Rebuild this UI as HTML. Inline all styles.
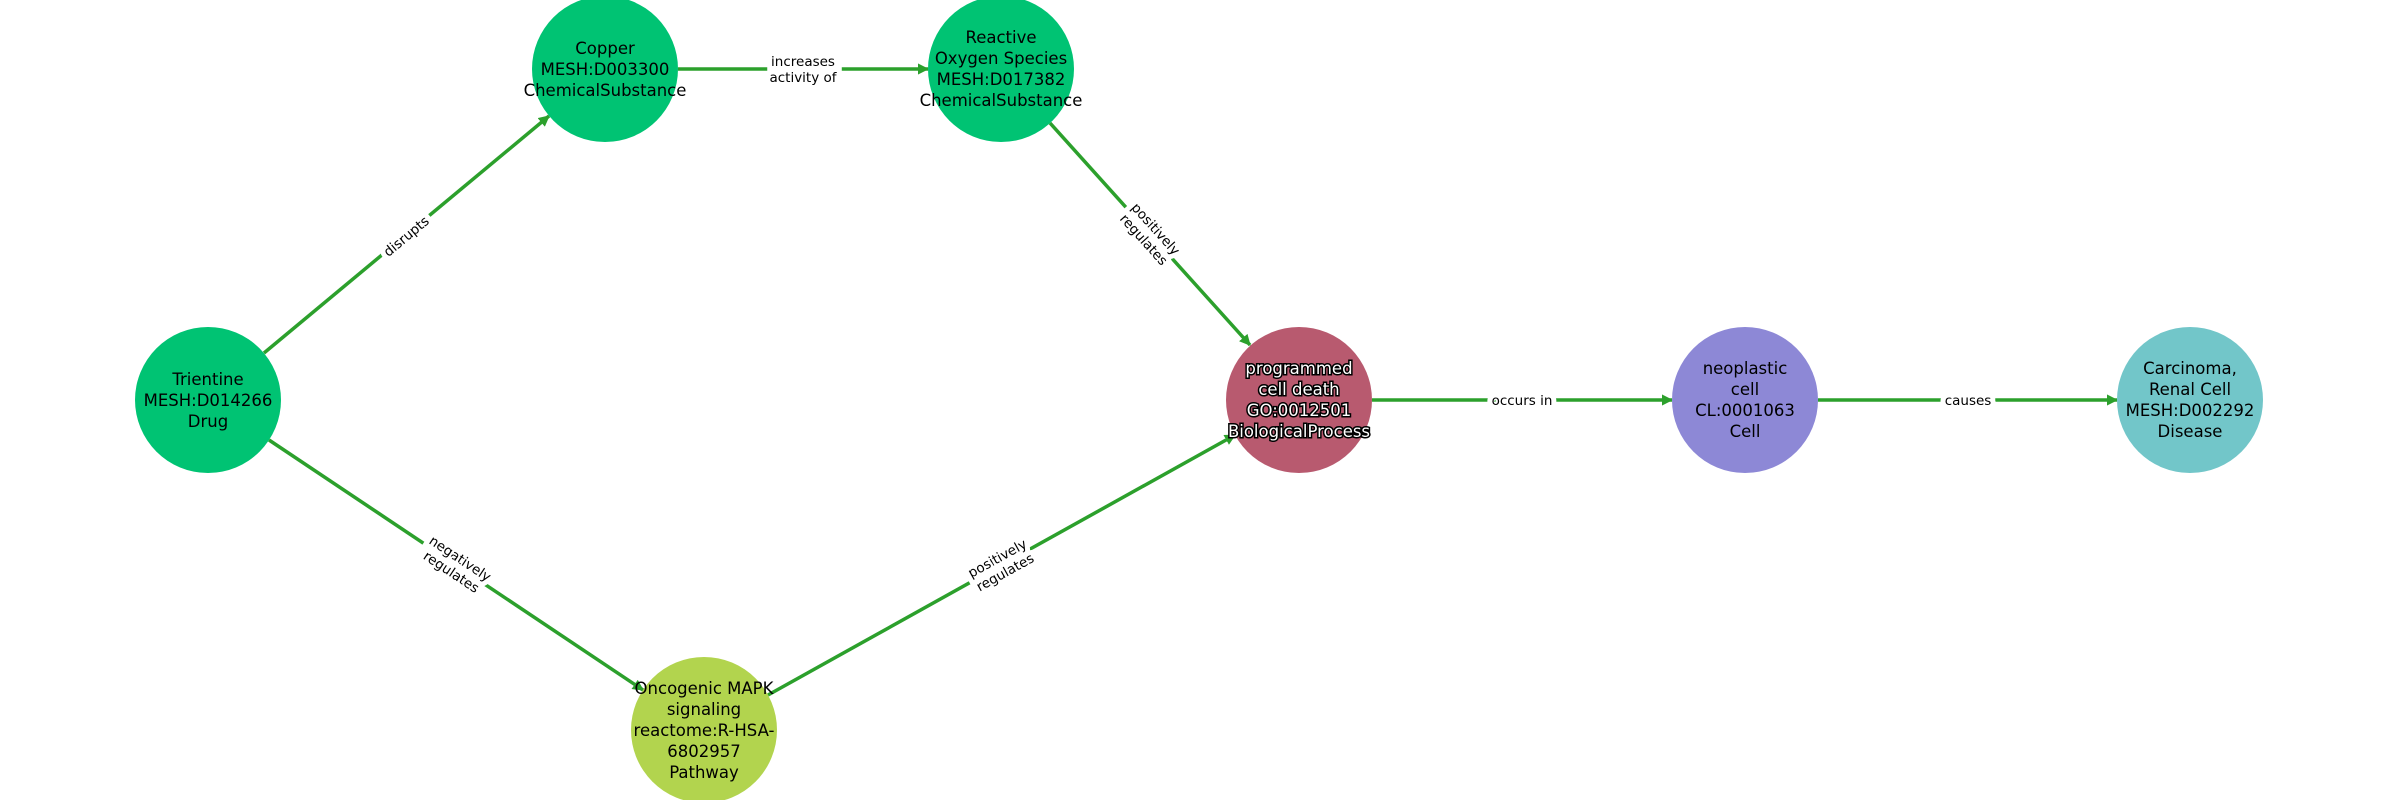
<!DOCTYPE html>
<html><head><meta charset="utf-8"><style>
html,body{margin:0;padding:0;background:#fff;}
svg{display:block;}
text{font-family:"DejaVu Sans","Liberation Sans",sans-serif;}
.n{font-size:16.5px;fill:#000;text-anchor:middle;}
.e{font-size:13.5px;fill:#000;text-anchor:middle;stroke:#fff;stroke-width:10px;paint-order:stroke;stroke-linejoin:miter;}
.w{font-size:16.5px;fill:#fff;stroke:#000;stroke-width:3px;paint-order:stroke;text-anchor:middle;}
line{stroke:#2ca02c;stroke-width:3.5;}
</style></head><body>
<svg width="2400" height="800" viewBox="0 0 2400 800" xmlns="http://www.w3.org/2000/svg">
<defs><marker id="a" viewBox="0 0 10 10" refX="9" refY="5" markerWidth="3.2" markerHeight="3.2" orient="auto" markerUnits="strokeWidth"><path d="M0,0 L10,5 L0,10 Z" fill="#2ca02c"/></marker></defs>
<line x1="264" y1="353" x2="549" y2="116" marker-end="url(#a)"/>
<line x1="269" y1="440" x2="643" y2="690" marker-end="url(#a)"/>
<line x1="1050" y1="123" x2="1250" y2="345" marker-end="url(#a)"/>
<line x1="768" y1="695" x2="1235" y2="435" marker-end="url(#a)"/>
<line x1="678" y1="69" x2="928" y2="69" marker-end="url(#a)"/>
<line x1="1372" y1="400" x2="1672" y2="400" marker-end="url(#a)"/>
<line x1="1818" y1="400" x2="2117" y2="400" marker-end="url(#a)"/>

<text class="e" transform="translate(406,236) rotate(-39.8)" y="5">disrupts</text>
<text class="e" transform="translate(456,565) rotate(33.6)"><tspan x="0" y="-3">negatively</tspan><tspan x="0" y="13">regulates</tspan></text>
<text class="e" transform="translate(1150,234) rotate(48)"><tspan x="0" y="-3">positively</tspan><tspan x="0" y="13">regulates</tspan></text>
<text class="e" transform="translate(1001,565) rotate(-29)"><tspan x="0" y="-3">positively</tspan><tspan x="0" y="13">regulates</tspan></text>
<text class="e" x="803" y="66">increases</text>
<text class="e" x="803" y="82">activity of</text>
<text class="e" x="1522" y="405">occurs in</text>
<text class="e" x="1968" y="405">causes</text>

<circle cx="208" cy="400" r="73" fill="#00c373"/>
<circle cx="605" cy="69" r="73" fill="#00c373"/>
<circle cx="1001" cy="69" r="73" fill="#00c373"/>
<circle cx="1299" cy="400" r="73" fill="#b85a6f"/>
<circle cx="1745" cy="400" r="73" fill="#8d88d6"/>
<circle cx="2190" cy="400" r="73" fill="#72c6c9"/>
<circle cx="704" cy="730" r="73" fill="#b2d44e"/>

<text class="n" x="208" y="385">Trientine</text>
<text class="n" x="208" y="406">MESH:D014266</text>
<text class="n" x="208" y="427">Drug</text>

<text class="n" x="605" y="54">Copper</text>
<text class="n" x="605" y="75">MESH:D003300</text>
<text class="n" x="605" y="96">ChemicalSubstance</text>

<text class="n" x="1001" y="43">Reactive</text>
<text class="n" x="1001" y="64">Oxygen Species</text>
<text class="n" x="1001" y="85">MESH:D017382</text>
<text class="n" x="1001" y="106">ChemicalSubstance</text>

<text class="w" x="1299" y="374">programmed</text>
<text class="w" x="1299" y="395">cell death</text>
<text class="w" x="1299" y="416">GO:0012501</text>
<text class="w" x="1299" y="437">BiologicalProcess</text>

<text class="n" x="1745" y="374">neoplastic</text>
<text class="n" x="1745" y="395">cell</text>
<text class="n" x="1745" y="416">CL:0001063</text>
<text class="n" x="1745" y="437">Cell</text>

<text class="n" x="2190" y="374">Carcinoma,</text>
<text class="n" x="2190" y="395">Renal Cell</text>
<text class="n" x="2190" y="416">MESH:D002292</text>
<text class="n" x="2190" y="437">Disease</text>

<text class="n" x="704" y="694">Oncogenic MAPK</text>
<text class="n" x="704" y="715">signaling</text>
<text class="n" x="704" y="736">reactome:R-HSA-</text>
<text class="n" x="704" y="757">6802957</text>
<text class="n" x="704" y="778">Pathway</text>
</svg>
</body></html>
